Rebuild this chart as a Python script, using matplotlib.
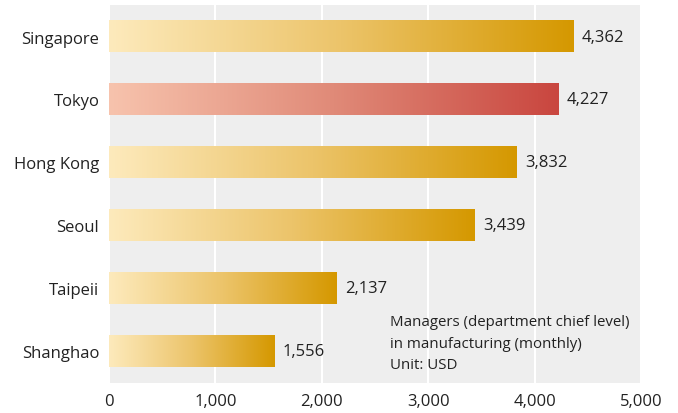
import matplotlib
matplotlib.use("Agg")
import matplotlib.pyplot as plt
import numpy as np
from matplotlib.colors import LinearSegmentedColormap

cities = ["Singapore", "Tokyo", "Hong Kong", "Seoul", "Taipeii", "Shanghao"]
salaries = [4362, 4227, 3832, 3439, 2137, 1556]
highlight = "Tokyo"
ticks = [0, 1000, 2000, 3000, 4000, 5000]
note = "Managers (department chief level)\nin manufacturing (monthly)\nUnit: USD"

plt.rcParams["font.family"] = ["Open Sans", "DejaVu Sans"]

gold = LinearSegmentedColormap.from_list("gold", ["#fdeabc", "#ecc46a", "#d59800"])
red = LinearSegmentedColormap.from_list("red", ["#f7c3ad", "#e08a78", "#c9463f"])

fig = plt.figure(figsize=(6.78, 4.14), dpi=100)
ax = fig.add_axes([109 / 678, 30 / 414, 532 / 678, 378 / 414])
ax.set_facecolor("#eeeeee")

ypos = np.arange(len(cities))
bars = ax.barh(ypos, salaries, height=0.5, color="none")
grad = np.linspace(0, 1, 256).reshape(1, -1)
for bar, city, val in zip(bars, cities, salaries):
    x0, y0 = bar.get_x(), bar.get_y()
    cmap = red if city == highlight else gold
    ax.imshow(grad, cmap=cmap, aspect="auto", zorder=2,
              extent=[x0, x0 + bar.get_width(), y0 + bar.get_height(), y0])
    ax.annotate(f"{val:,}", (val, bar.get_y() + bar.get_height() / 2),
                xytext=(6, 0), textcoords="offset points", va="center",
                fontsize=12, color="#222222")

ax.set_xlim(0, 5000)
ax.set_ylim(len(cities) - 0.5, -0.5)
ax.set_xticks(ticks)
ax.set_xticklabels([f"{t:,}" for t in ticks], fontsize=12, color="#222222")
ax.set_yticks(ypos)
ax.set_yticklabels(cities, fontsize=12, color="#222222")
ax.tick_params(length=0, pad=7)
ax.grid(axis="x", color="white", linewidth=1.5, zorder=1)
ax.set_axisbelow(True)
for s in ax.spines.values():
    s.set_visible(False)

ax.text(2640, 4.4, note, fontsize=10.8, color="#222222", va="top", linespacing=1.62)

fig.savefig("out.png", dpi=100)
